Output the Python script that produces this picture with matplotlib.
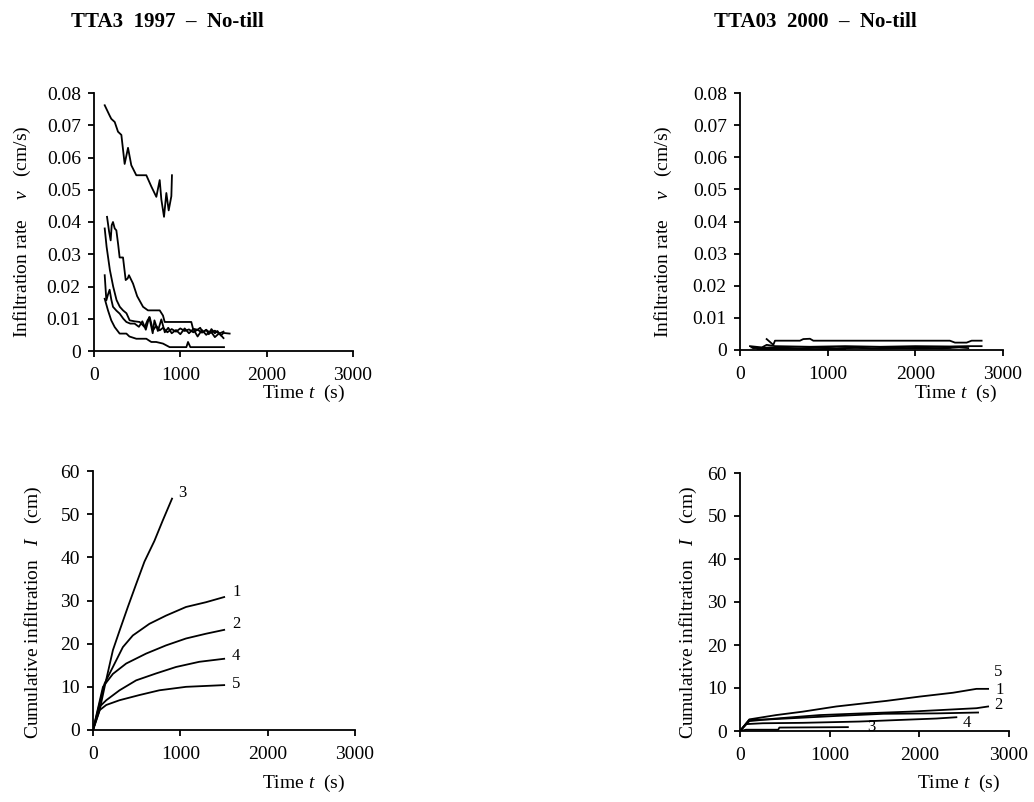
import numpy as np
import matplotlib
matplotlib.use("Agg")
import matplotlib.pyplot as plt

plt.rcParams["font.family"] = ["Liberation Serif", "DejaVu Serif"]
plt.rcParams["mathtext.fontset"] = "custom"
plt.rcParams["mathtext.rm"] = "Liberation Serif"
plt.rcParams["mathtext.it"] = "Liberation Serif:italic"

# ---- TTA3 1997: infiltration rate (cm/s) vs time (s) ----
t97_v1 = [151, 175, 193, 205, 220, 240, 259, 280, 297, 336, 367, 390, 405, 452, 500, 568, 625, 700,
          761, 799, 819, 900, 1000, 1127, 1147, 1200, 1230, 1260, 1300, 1330, 1360, 1400, 1430,
          1470, 1500, 1571]
v97_1 = [0.0416, 0.037, 0.0343, 0.039, 0.040, 0.038, 0.0374, 0.033, 0.029, 0.029, 0.022, 0.0225,
         0.0235, 0.0209, 0.017, 0.0137, 0.0126, 0.0126, 0.0126, 0.011, 0.009, 0.009, 0.009, 0.009,
         0.0069, 0.0066, 0.0072, 0.0058, 0.0066, 0.0052, 0.0068, 0.0055, 0.0062, 0.0048, 0.0056,
         0.0054]
t97_v2 = [124, 146, 184, 222, 261, 299, 336, 376, 413, 470, 529, 587, 620, 645, 683, 720, 761, 800,
          850, 900, 950, 1000, 1050, 1100, 1150, 1200, 1250, 1300, 1350, 1400, 1450, 1500]
v97_2 = [0.038, 0.0323, 0.0251, 0.020, 0.0158, 0.0137, 0.0126, 0.0117, 0.0095, 0.0092, 0.009,
         0.0074, 0.0095, 0.0105, 0.0064, 0.0078, 0.0064, 0.0072, 0.0058, 0.0068, 0.0060, 0.0070,
         0.0062, 0.0067, 0.0058, 0.0066, 0.0057, 0.0065, 0.0056, 0.0063, 0.0054, 0.0060]
t97_v3 = [124, 181, 200, 240, 278, 317, 355, 394, 432, 490, 606, 664, 722, 761, 780, 811, 838, 865,
          896, 903]
v97_3 = [0.0762, 0.073, 0.072, 0.071, 0.068, 0.067, 0.058, 0.063, 0.0576, 0.0545, 0.0545, 0.051,
         0.0478, 0.053, 0.047, 0.0416, 0.049, 0.0436, 0.048, 0.0545]
t97_v4 = [124, 143, 162, 181, 200, 220, 260, 297, 340, 375, 420, 470, 520, 560, 600, 640, 680, 700,
          740, 780, 820, 860, 900, 950, 1000, 1050, 1100, 1150, 1200, 1250, 1300, 1350, 1400, 1450,
          1500]
v97_4 = [0.0235, 0.0157, 0.0175, 0.019, 0.016, 0.0137, 0.0125, 0.0116, 0.010, 0.009, 0.0085,
         0.0085, 0.0075, 0.0092, 0.0066, 0.0105, 0.0055, 0.0095, 0.0062, 0.0098, 0.0058, 0.0072,
         0.0055, 0.0065, 0.0052, 0.007, 0.0055, 0.0068, 0.0045, 0.0065, 0.0050, 0.0062, 0.0043,
         0.0055, 0.0040]
t97_v5 = [124, 162, 200, 240, 297, 375, 410, 490, 606, 640, 664, 720, 799, 876, 950, 1070, 1089,
          1116, 1300, 1506]
v97_5 = [0.0162, 0.0126, 0.0095, 0.0074, 0.0054, 0.0054, 0.0045, 0.0038, 0.0038, 0.0032, 0.0028,
         0.0028, 0.0023, 0.0012, 0.0012, 0.0012, 0.0028, 0.0012, 0.0012, 0.0012]

# ---- TTA3 1997: cumulative infiltration (cm) ----
t97_c1 = [0, 133, 228, 342, 456, 646, 836, 1065, 1293, 1502]
c97_1 = [0, 10.8, 14.6, 19.2, 21.9, 24.6, 26.5, 28.5, 29.6, 30.8]
t97_c2 = [0, 114, 228, 380, 608, 836, 1065, 1293, 1502]
c97_2 = [0, 10.0, 13.0, 15.4, 17.7, 19.6, 21.2, 22.3, 23.2]
t97_c3 = [0, 76, 133, 228, 304, 399, 494, 589, 703, 798, 905]
c97_3 = [0, 4.6, 10.0, 18.5, 23.0, 28.5, 33.8, 39.0, 43.8, 48.5, 53.6]
t97_c4 = [0, 76, 152, 304, 494, 722, 951, 1217, 1502]
c97_4 = [0, 5.4, 6.9, 9.2, 11.5, 13.1, 14.6, 15.8, 16.5]
t97_c5 = [0, 76, 152, 304, 532, 760, 1065, 1502]
c97_5 = [0, 4.6, 5.8, 6.9, 8.1, 9.2, 10.0, 10.4]

# ---- TTA03 2000: infiltration rate (cm/s) ----
t00_v1 = [304, 380, 399, 684, 722, 798, 836, 2394, 2452, 2585, 2642, 2756]
v00_1 = [0.0034, 0.0016, 0.0029, 0.0029, 0.0034, 0.0035, 0.0029, 0.0029, 0.0023, 0.0023, 0.0029,
         0.0029]
t00_v2 = [114, 250, 304, 400, 800, 1200, 1600, 2000, 2400, 2600, 2756]
v00_2 = [0.0012, 0.0008, 0.0016, 0.0012, 0.0010, 0.0012, 0.0010, 0.0012, 0.0011, 0.0012, 0.0012]
t00_v3 = [200, 400, 600, 800, 1000, 1200]
v00_3 = [0.0003, 0.0002, 0.0004, 0.0002, 0.0003, 0.0002]
t00_v4 = [150, 350, 600, 850, 1100, 1350, 1600, 1850, 2100, 2400]
v00_4 = [0.0006, 0.0008, 0.0004, 0.0007, 0.0005, 0.0007, 0.0004, 0.0006, 0.0005, 0.0007]
t00_v5 = [130, 300, 500, 700, 900, 1100, 1300, 1500, 1700, 1900, 2100, 2300, 2500, 2604]
v00_5 = [0.0008, 0.0004, 0.0007, 0.0005, 0.0008, 0.0005, 0.0007, 0.0005, 0.0008, 0.0006, 0.0007,
         0.0005, 0.0008, 0.0006]

# ---- TTA03 2000: cumulative infiltration (cm) ----
t00_c1 = [0, 104, 402, 700, 1073, 1371, 1631, 2003, 2376, 2637, 2767]
c00_1 = [0, 2.7, 3.7, 4.5, 5.7, 6.4, 7.0, 8.0, 8.9, 9.8, 9.8]
t00_c2 = [0, 104, 402, 886, 1371, 1892, 2637, 2767]
c00_2 = [0, 2.3, 2.9, 3.7, 4.1, 4.5, 5.3, 5.7]
t00_c3 = [0, 67, 426, 439, 1203]
c00_3 = [0, 0.3, 0.3, 0.8, 0.9]
t00_c4 = [0, 67, 253, 700, 1330, 2190, 2413]
c00_4 = [0, 1.6, 1.8, 1.9, 2.2, 2.9, 3.2]
t00_c5 = [0, 104, 324, 1073, 1600, 2200, 2655]
c00_5 = [0, 2.6, 2.7, 3.5, 4.0, 4.1, 4.3]

lab97 = [("3", 1020, 55.0), ("1", 1640, 32.0), ("2", 1640, 24.6), ("4", 1640, 17.2), ("5", 1640, 10.7)]
lab00 = [("5", 2880, 13.8), ("1", 2895, 9.5), ("2", 2880, 6.0), ("4", 2525, 1.8), ("3", 1463, 0.9)]


def style(ax, ymax, yticks, fmt):
    ax.set_xlim(0, 3000)
    ax.set_ylim(0, ymax)
    ax.set_xticks([0, 1000, 2000, 3000])
    ax.set_yticks(yticks)
    ax.set_yticklabels([fmt(v) for v in yticks])
    for s in ("top", "right"):
        ax.spines[s].set_visible(False)
    for s in ("left", "bottom"):
        ax.spines[s].set_linewidth(1.3)
    ax.tick_params(direction="out", length=4.5, width=1.3, labelsize=14)
    ax.tick_params(axis="x", pad=7)
    ax.tick_params(axis="y", pad=5)
    ax.patch.set_visible(False)


fig = plt.figure(figsize=(10.34, 8.02), dpi=100)
W, H = 1034, 802


def axes_px(l, r, t, b):
    return fig.add_axes([l / W, 1 - b / H, (r - l) / W, (b - t) / H])


vt = [0, 0.01, 0.02, 0.03, 0.04, 0.05, 0.06, 0.07, 0.08]
vfmt = lambda v: "0" if v == 0 else f"{v:.2f}"
ct = [0, 10, 20, 30, 40, 50, 60]
cfmt = lambda v: f"{v:d}"

ax1 = axes_px(94, 353, 93, 351)
for t, v in [(t97_v1, v97_1), (t97_v2, v97_2), (t97_v3, v97_3), (t97_v4, v97_4), (t97_v5, v97_5)]:
    ax1.plot(t, v, color="black", lw=1.3)
style(ax1, 0.08, vt, vfmt)

ax2 = axes_px(740, 1003, 93, 350)
for t, v in [(t00_v1, v00_1), (t00_v2, v00_2), (t00_v3, v00_3), (t00_v4, v00_4), (t00_v5, v00_5)]:
    ax2.plot(t, v, color="black", lw=1.3)
style(ax2, 0.08, vt, vfmt)

ax3 = axes_px(93, 355, 471, 730)
for t, c in [(t97_c1, c97_1), (t97_c2, c97_2), (t97_c3, c97_3), (t97_c4, c97_4), (t97_c5, c97_5)]:
    ax3.plot(t, c, color="black", lw=1.3)
for s, x, y in lab97:
    ax3.text(x, y, s, fontsize=12, ha="center", va="center")
style(ax3, 60, ct, cfmt)

ax4 = axes_px(740, 1009, 473, 731)
for t, c in [(t00_c1, c00_1), (t00_c2, c00_2), (t00_c3, c00_3), (t00_c4, c00_4), (t00_c5, c00_5)]:
    ax4.plot(t, c, color="black", lw=1.3)
for s, x, y in lab00:
    ax4.text(x, y, s, fontsize=12, ha="center", va="center")
style(ax4, 60, ct, cfmt)

# titles
fig.text(167 / W, 1 - 22 / H, "TTA3  1997  \u2013  No-till", fontsize=15, fontweight="bold",
         ha="center", va="center")
fig.text(815 / W, 1 - 22 / H, "TTA03  2000  \u2013  No-till", fontsize=15, fontweight="bold",
         ha="center", va="center")

# axis labels
xl = "Time $\\mathit{t}$  (s)"
fig.text(345 / W, 1 - 393 / H, xl, fontsize=14, ha="right", va="center")
fig.text(997 / W, 1 - 393 / H, xl, fontsize=14, ha="right", va="center")
fig.text(345 / W, 1 - 783 / H, xl, fontsize=14, ha="right", va="center")
fig.text(1000 / W, 1 - 783 / H, xl, fontsize=14, ha="right", va="center")

yl_v = "Infiltration rate    $\\mathit{v}$   (cm/s)"
yl_c = "Cumulative infiltration   $\\mathit{I}$   (cm)"
fig.text(22 / W, 1 - 232 / H, yl_v, fontsize=14, rotation=90, ha="center", va="center")
fig.text(663 / W, 1 - 232 / H, yl_v, fontsize=14, rotation=90, ha="center", va="center")
fig.text(33 / W, 1 - 612 / H, yl_c, fontsize=14, rotation=90, ha="center", va="center")
fig.text(688 / W, 1 - 612 / H, yl_c, fontsize=14, rotation=90, ha="center", va="center")

fig.savefig("out.png", dpi=100)
